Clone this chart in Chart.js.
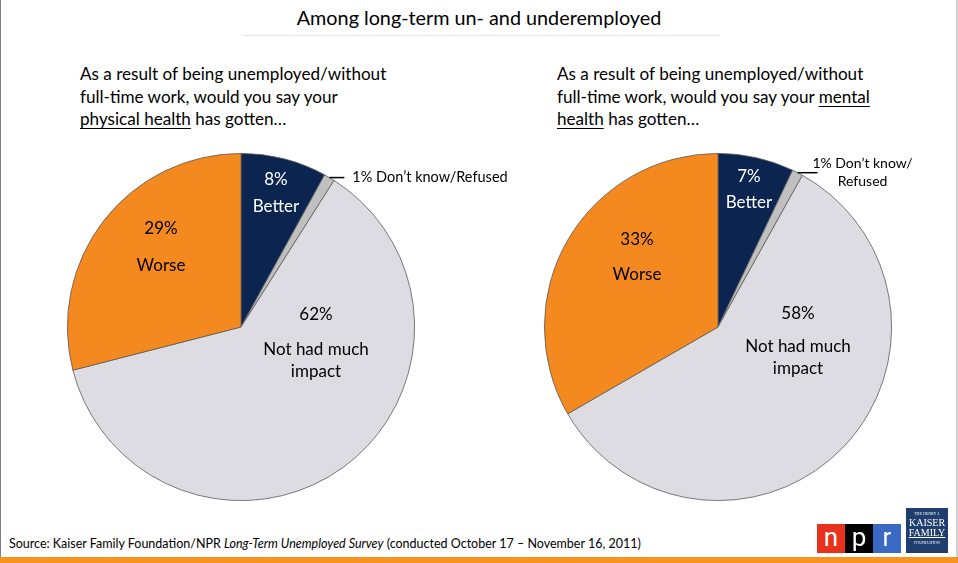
<!DOCTYPE html>
<html>
<head>
<meta charset="utf-8">
<script src="https://cdn.jsdelivr.net/npm/chart.js@4/dist/chart.umd.min.js"></script>
<style>
  html, body { margin: 0; padding: 0; }
  body {
    width: 958px; height: 563px; position: relative; overflow: hidden;
    background: #fff; font-family: Lato, "Open Sans", sans-serif; color: #000;
  }
  .abs { position: absolute; }
  #frameL { left: 0; top: 0; width: 1px; height: 563px; background: #7f7f7f; }
  #frameR { left: 956px; top: 0; width: 2px; height: 563px; background: #d0d0d0; }
  #title { left: 0; width: 958px; top: 5px; text-align: center; font-size: 19.8px; }
  #rule { left: 243px; top: 35px; width: 477px; height: 1px; background: #e6e6e6; }
  .question { font-size: 17.1px; line-height: 22.5px; top: 63px; white-space: nowrap; }
  #qL { left: 80px; }
  #qR { left: 557px; }
  .question u { text-decoration-thickness: 1px; text-underline-offset: 3px; }
  canvas { position: absolute; }
  #source { left: 9px; top: 536px; font-size: 12.5px; }
  #bar { left: 0; top: 557px; width: 958px; height: 6px; background: #f7931e; }
  .npr { top: 524px; width: 28px; height: 29px; color: #fff; font-size: 26px;
         text-align: center; line-height: 26px; font-family: Roboto, sans-serif; }
  #kff { left: 906px; top: 508px; width: 42px; height: 45px; background: #1f3d6d; color: #fff;
         font-family: "Liberation Serif", serif; text-align: center; line-height: 1; }
</style>
</head>
<body>
<div class="abs" id="frameL"></div>
<div class="abs" id="frameR"></div>
<div class="abs" id="title">Among long-term un- and underemployed</div>
<div class="abs" id="rule"></div>
<div class="abs question" id="qL">As a result of being unemployed/without<br>full-time work, would you say your<br><u>physical health</u> has gotten…</div>
<div class="abs question" id="qR">As a result of being unemployed/without<br>full-time work, would you say your <u>mental</u><br><u>health</u> has gotten…</div>

<canvas id="pieR" width="480" height="380" style="left:478px;top:137px;width:480px;height:380px"></canvas>
<canvas id="pieL" width="560" height="380" style="left:1px;top:137px;width:560px;height:380px"></canvas>

<div class="abs" id="source">Source: Kaiser Family Foundation/NPR <i>Long-Term Unemployed Survey</i> (conducted October 17 – November 16, 2011)</div>
<div class="abs" id="bar"></div>
<div class="abs npr" style="left:817px;background:#e8321b">n</div>
<div class="abs npr" style="left:845px;background:#000">p</div>
<div class="abs npr" style="left:873px;background:#3a69c4">r</div>
<div class="abs" id="kff">
  <div style="font-size:4px;margin-top:4px">THE HENRY J.</div>
  <div style="font-size:10px;margin-top:2px">KAISER</div>
  <div style="font-size:10px;text-decoration:underline">FAMILY</div>
  <div style="font-size:4px;margin-top:3px">FOUNDATION</div>
</div>

<script>
// categories, clockwise from 12 o'clock
const categories = ['Better', "Don't know/Refused", 'Not had much impact', 'Worse'];
const physicalValues = [8, 1, 62, 29];
const mentalValues = [7, 1, 58, 33];

const sliceColors = ['#0b2550', '#c0c0c0', '#dcdce2', '#f4891f'];
const textColors = ['#ffffff', '#000000', '#000000', '#000000'];

// label text lines per slice (value line is built from the data)
const labelWords = [['Better'], null, ['Not had much', 'impact'], ['Worse']];

// where the in-slice labels sit, px from the pie centre: [dx, dy of value, dy of words...]
const spotsPhysical = [[35, -147, -120], null, [75, -12, 23, 45], [-80, -98, -61]];
const spotsMental = [[31, -150, -124], null, [80, -13, 20, 42], [-81, -87, -52]];

const labelFont = '17px Lato, sans-serif';

// draws the slice labels and the small-slice callout
const sliceLabels = {
  id: 'sliceLabels',
  afterDatasetsDraw(chart, args, opts) {
    const ctx = chart.ctx;
    const arcs = chart.getDatasetMeta(0).data;
    const values = chart.data.datasets[0].data;
    ctx.save();
    ctx.font = labelFont;
    ctx.textAlign = 'center';
    ctx.textBaseline = 'middle';
    arcs.forEach((arc, i) => {
      const spot = opts.spots[i];
      if (!spot) return;
      ctx.fillStyle = textColors[i];
      ctx.fillText(values[i] + '%', arc.x + spot[0], arc.y + spot[1]);
      labelWords[i].forEach((w, j) => {
        ctx.fillText(w, arc.x + spot[0], arc.y + spot[2 + j]);
      });
    });

    // callout for the 1% slice
    const dk = arcs[1];
    const mid = (dk.startAngle + dk.endAngle) / 2;
    const ex = dk.x + dk.outerRadius * Math.cos(mid);
    const ey = dk.y + dk.outerRadius * Math.sin(mid);
    const c = opts.callout;
    ctx.strokeStyle = '#000';
    ctx.lineWidth = 1.5;
    ctx.beginPath();
    ctx.moveTo(ex, ey);
    ctx.lineTo(ex + c.lineLen, ey);
    ctx.stroke();
    ctx.font = c.font;
    ctx.fillStyle = '#000';
    ctx.textAlign = c.align;
    c.lines.forEach(l => {
      const txt = l[0].replace('{v}', values[1] + '%');
      ctx.fillText(txt, ex + l[1], ey + l[2]);
    });
    ctx.restore();
  }
};

function makePie(id, values, spots, callout, padding) {
  return new Chart(document.getElementById(id), {
    type: 'pie',
    data: {
      labels: categories,
      datasets: [{
        data: values,
        backgroundColor: sliceColors,
        borderColor: '#5a5a5a',
        borderWidth: 0.8
      }]
    },
    options: {
      responsive: false,
      animation: false,
      rotation: 0,
      layout: { padding: padding },
      plugins: {
        legend: { display: false },
        tooltip: { enabled: false },
        sliceLabels: { spots: spots, callout: callout }
      }
    },
    plugins: [sliceLabels]
  });
}

makePie('pieL', physicalValues, spotsPhysical, {
  lineLen: 15, align: 'left', font: '14.5px Lato, sans-serif',
  lines: [["{v} Don\u2019t know/Refused", 23, 0]]
}, { left: 66, right: 146, top: 16, bottom: 16 });
makePie('pieR', mentalValues, spotsMental, {
  lineLen: 20, align: 'center', font: '14px Lato, sans-serif',
  lines: [["{v} Don\u2019t know/", 65, -9], ['Refused', 65, 9]]
}, { left: 66, right: 66, top: 16, bottom: 16 });
</script>
</body>
</html>
